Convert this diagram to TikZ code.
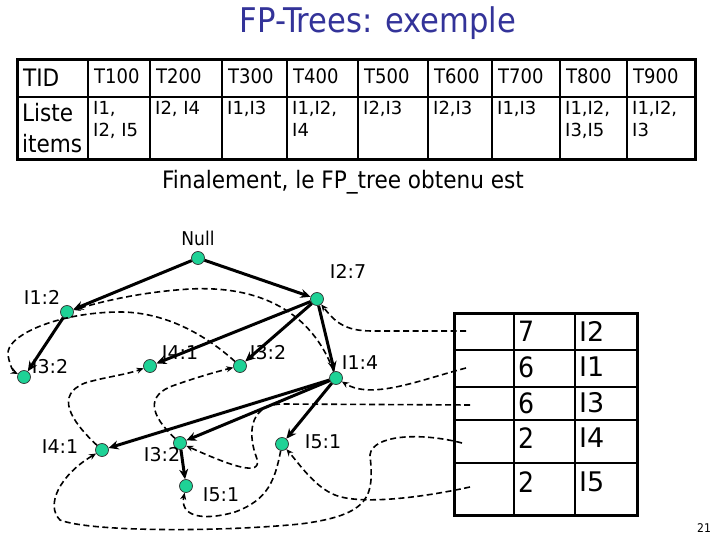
\documentclass[tikz,border=0pt]{standalone}
\usepackage{fontspec}
\setmainfont{DejaVu Sans Condensed}
\newfontfamily\itemfont{DejaVu Sans}
\usetikzlibrary{arrows.meta}
\definecolor{titleblue}{RGB}{51,51,153}
\definecolor{nodegreen}{RGB}{30,210,150}
\tikzset{
  dot/.style={circle, draw=black!80, line width=0.7pt, fill=nodegreen, inner sep=0pt, minimum size=13pt},
  lbl/.style={font=\itemfont\fontsize{19}{19}\selectfont, inner sep=0pt},
  cell/.style={inner sep=0pt, anchor=west},
  tree/.style={-{Stealth[length=10pt,width=9pt]}, line width=3pt},
  link/.style={-{Stealth[length=7pt,width=6pt]}, line width=1.6pt, dash pattern=on 6pt off 3.5pt},
}
\begin{document}
\begin{tikzpicture}[x=1pt,y=-1pt]
    \useasboundingbox (0,0) rectangle (720,540);

    % Title
    \node[titleblue, font=\fontsize{34}{34}\selectfont] (title) at (378,23) {FP-Trees: exemple};

    % Transactions
    \draw[line width=1.6pt] (17,97) -- (695,97);
    \foreach \x in {88,150,222,287,358,428,492,560,627}
        \draw[line width=1.6pt] (\x,60) -- (\x,160);
    \draw[line width=3pt] (17,60) rectangle (695,160);
    \node[cell, font=\fontsize{24}{24}\selectfont] (tid) at (23,78) {TID};
    \node[cell, align=left, font=\fontsize{24}{31}\selectfont] (liste) at (22,128) {Liste\\items};
    \foreach \x/\tname/\lst [count=\i] in {88/T100/{I1,\\I2, I5}, 150/T200/{I2, I4},
        222/T300/{I1,I3}, 287/T400/{I1,I2,\\I4}, 358/T500/{I2,I3}, 428/T600/{I2,I3},
        492/T700/{I1,I3}, 560/T800/{I1,I2,\\I3,I5}, 627/T900/{I1,I2,\\I3}} {
        \node[cell, font=\fontsize{20}{20}\selectfont] (t\i) at (\x+6,76) {\tname};
        \node[cell, anchor=north west, align=left, font=\itemfont\fontsize{18}{22}\selectfont] (l\i) at (\x+5,101) {\lst};
    }

    \node[font=\fontsize{24}{24}\selectfont] (final) at (343,182) {Finalement, le FP\_tree obtenu est};

    % Tree
    \node[dot] (null) at (198,258) {};
    \node[dot] (i27) at (317,299) {};
    \node[dot] (i12) at (67,312) {};
    \node[dot] (i32l) at (24,377) {};
    \node[dot] (i41m) at (150,366) {};
    \node[dot] (i32m) at (240,366) {};
    \node[dot] (i14) at (336,378) {};
    \node[dot] (i41b) at (102,450) {};
    \node[dot] (i32b) at (180,443) {};
    \node[dot] (i51u) at (186,486) {};
    \node[dot] (i51r) at (282,444) {};

    \node[font=\fontsize{19}{19}\selectfont, inner sep=0pt] (lnull) at (198,238) {Null};
    \node[lbl] (l27) at (348,271) {I2:7};
    \node[lbl] (l12) at (42,297) {I1:2};
    \node[lbl] (l32l) at (50,367) {I3:2};
    \node[lbl] (l41m) at (180,353) {I4:1};
    \node[lbl] (l32m) at (268,353) {I3:2};
    \node[lbl] (l14) at (360,363) {I1:4};
    \node[lbl] (l41b) at (60,447) {I4:1};
    \node[lbl] (l32b) at (162,455) {I3:2};
    \node[lbl] (l51u) at (221,495) {I5:1};
    \node[lbl] (l51r) at (323,442) {I5:1};

    \draw[tree] (null) -- (i12);
    \draw[tree] (null) -- (i27);
    \draw[tree] (i12) -- (i32l);
    \draw[tree] (i27) -- (i41m);
    \draw[tree] (i27) -- (i32m);
    \draw[tree] (i27) -- (i14);
    \draw[tree] (i14) -- (i41b);
    \draw[tree] (i14) -- (i32b);
    \draw[tree] (i14) -- (i51r);
    \draw[tree] (i32b) -- (i51u);

    % Header table
    \draw[line width=1.8pt] (514,313) -- (514,515) (575,313) -- (575,515);
    \foreach \y in {350,387,420,463}
        \draw[line width=1.8pt] (454,\y) -- (637,\y);
    \draw[line width=3pt] (454,313) rectangle (637,515);
    \foreach \y/\cnt/\item [count=\i] in {331/7/I2, 367/6/I1, 403/6/I3, 438/2/I4, 482/2/I5} {
        \node[cell, font=\fontsize{28}{28}\selectfont] (c\i) at (518,\y) {\cnt};
        \node[cell, font=\itemfont\fontsize{27}{27}\selectfont] (n\i) at (579,\y) {\item};
    }
    \coordinate (h2) at (466,331);
    \coordinate (h1) at (466,368);
    \coordinate (h3) at (470,405);
    \coordinate (h4) at (462,443);
    \coordinate (h5) at (470,487);

    % Node-links
    \draw[link] (h2) -- (372,331) .. controls (345,331) and (335,322) .. (i27);
    \draw[link] (h1) .. controls (420,380) and (372,400) .. (i14);
    \draw[link] (h3) -- (282,404) .. controls (245,405) and (250,440) .. (256,456) .. controls (264,476) and (240,470) .. (i32b);
    \draw[link] (h4) .. controls (420,432) and (372,435) .. (370,455) .. controls (374,495) and (372,515) .. (300,524) .. controls (220,532) and (90,532) .. (60,520) .. controls (45,505) and (60,475) .. (i41b);
    \draw[link] (h5) .. controls (420,498) and (360,505) .. (335,495) .. controls (315,487) and (300,465) .. (i51r);
    \draw[link] (i14) .. controls (315,320) and (270,285) .. (190,289) .. controls (140,292) and (100,302) .. (i12);
    \draw[link] (i32b) .. controls (150,415) and (145,395) .. (175,385) .. controls (195,378) and (215,372) .. (i32m);
    \draw[link] (i32m) .. controls (200,330) and (160,312) .. (120,312) .. controls (60,312) and (5,335) .. (8,355) .. controls (10,367) and (14,372) .. (i32l);
    \draw[link] (i41b) .. controls (70,420) and (55,395) .. (85,383) .. controls (105,377) and (125,375) .. (i41m);
    \draw[link] (i51r) .. controls (275,480) and (268,500) .. (235,512) .. controls (200,522) and (180,515) .. (i51u);

    \node[font=\fontsize{12}{12}\selectfont] (page) at (704,528) {21};
\end{tikzpicture}
\end{document}
